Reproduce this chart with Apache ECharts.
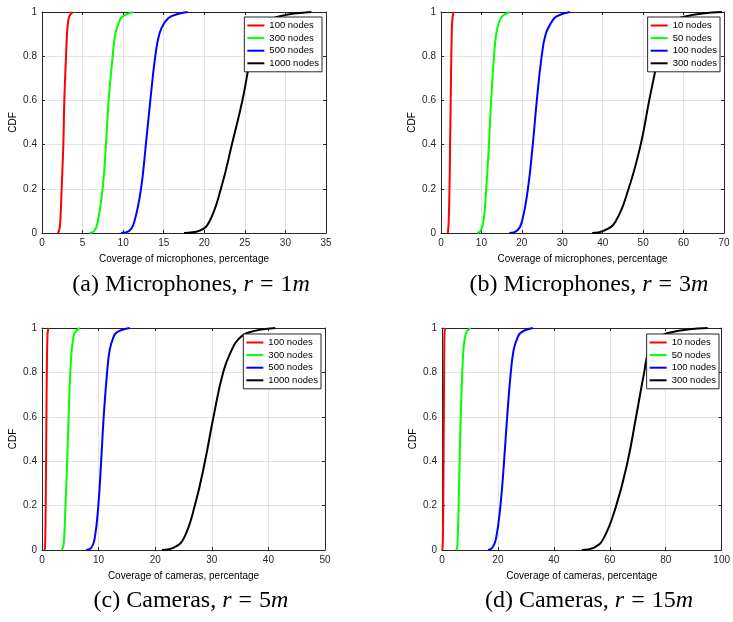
<!DOCTYPE html>
<html>
<head>
<meta charset="utf-8">
<script src="https://cdn.jsdelivr.net/npm/echarts@6/dist/echarts.min.js"></script>
<style>html,body{margin:0;padding:0;background:#fff}#c{width:733px;height:622px}</style>
</head>
<body>
<div id="c"></div>
<script>
// CDF levels (y values) shared by all curves
const cdfLevels = [0, 0.01, 0.05, 0.2, 0.4, 0.6, 0.8, 0.9, 0.95, 0.98, 1];

// Coverage (x values, %) at each CDF level
// (a) Microphones, r = 1m
const a_100  = [1.93, 2.1, 2.25, 2.42, 2.63, 2.75, 2.96, 3.08, 3.2, 3.37, 3.78];
const a_300  = [5.83, 6.45, 6.86, 7.47, 7.88, 8.21, 8.71, 9.03, 9.45, 9.94, 11.25];
const a_500  = [9.73, 10.76, 11.37, 12.2, 12.8, 13.35, 13.96, 14.46, 15.07, 15.9, 17.95];
const a_1000 = [17.5, 19.4, 20.6, 22.05, 23.4, 24.7, 25.75, 26.6, 27.6, 29.2, 33.2];
// (b) Microphones, r = 3m
const b_10  = [1.64, 1.75, 1.9, 2.1, 2.25, 2.4, 2.55, 2.65, 2.75, 2.9, 3.1];
const b_50  = [9.0, 9.8, 10.5, 11.2, 11.85, 12.4, 13.1, 13.65, 14.3, 15.1, 16.9];
const b_100 = [16.9, 18.8, 20.0, 21.5, 22.7, 23.7, 24.9, 25.9, 27.2, 28.6, 31.9];
const b_300 = [37.4, 40.2, 43.1, 46.4, 49.4, 51.5, 53.8, 55.2, 57.3, 60.4, 69.5];
// (c) Cameras, r = 5m
const c_100  = [0.45, 0.52, 0.58, 0.65, 0.72, 0.78, 0.85, 0.9, 0.95, 1.0, 1.15];
const c_300  = [3.35, 3.7, 3.9, 4.15, 4.45, 4.7, 5.0, 5.25, 5.5, 5.8, 6.7];
const c_500  = [7.8, 8.7, 9.3, 9.95, 10.45, 10.9, 11.5, 11.95, 12.5, 13.2, 15.5];
const c_1000 = [21.2, 23.2, 25.0, 27.0, 28.8, 30.3, 32.0, 33.5, 34.7, 36.5, 41.2];
// (d) Cameras, r = 15m
const d_10  = [0.1, 0.2, 0.3, 0.45, 0.55, 0.65, 0.75, 0.8, 0.85, 0.9, 1.2];
const d_50  = [5.0, 5.4, 5.6, 5.95, 6.3, 6.7, 7.25, 7.65, 8.1, 8.7, 10.2];
const d_100 = [16.5, 18.0, 19.3, 20.9, 22.2, 23.3, 24.6, 25.6, 26.8, 28.3, 32.5];
const d_300 = [50.0, 54.2, 57.7, 62.3, 66.4, 69.4, 72.3, 74.0, 77.0, 81.6, 95.0];

const legendA = ['100 nodes', '300 nodes', '500 nodes', '1000 nodes'];
const legendB = ['10 nodes', '50 nodes', '100 nodes', '300 nodes'];
const xTitleMic = 'Coverage of microphones, percentage';
const xTitleCam = 'Coverage of cameras, percentage';
const yTitle = 'CDF';
const captions = [
  ['(a) Microphones, ', 'r', '1', 'm'],
  ['(b) Microphones, ', 'r', '3', 'm'],
  ['(c) Cameras, ', 'r', '5', 'm'],
  ['(d) Cameras, ', 'r', '15', 'm']
];
const colors = ['#ff0000', '#00ff00', '#0000ff', '#000000'];

const panels = [
  {id:'a', curves:[a_100,a_300,a_500,a_1000], names:legendA, xmax:35, xint:5, xtitle:xTitleMic,
   grid:{left:42, top:12, width:284, height:221}, legendRight:411, legendTop:17, cap:{x:191, y:285}},
  {id:'b', curves:[b_10,b_50,b_100,b_300], names:legendB, xmax:70, xint:10, xtitle:xTitleMic,
   grid:{left:441, top:12, width:283, height:221}, legendRight:13, legendTop:17, cap:{x:589, y:285}},
  {id:'c', curves:[c_100,c_300,c_500,c_1000], names:legendA, xmax:50, xint:10, xtitle:xTitleCam,
   grid:{left:42, top:328, width:283, height:222}, legendRight:412, legendTop:334, cap:{x:191, y:601}},
  {id:'d', curves:[d_10,d_50,d_100,d_300], names:legendB, xmax:100, xint:20, xtitle:xTitleCam,
   grid:{left:442, top:328, width:282, height:222}, legendRight:14, legendTop:334, cap:{x:589, y:601}}
];

const axisColor = '#262626';
const grids = [], xAxes = [], yAxes = [], series = [], legends = [], graphics = [];

panels.forEach((p, k) => {
  grids.push(p.grid);
  const common = {type:'value', gridIndex:k,
    axisLine:{show:true, onZero:false, lineStyle:{color:axisColor, width:1}},
    axisTick:{show:true, inside:true, length:3, lineStyle:{color:axisColor}}};
  xAxes.push(Object.assign({}, common, {position:'bottom', min:0, max:p.xmax, interval:p.xint,
    axisLabel:{color:axisColor, fontSize:10, margin:5, fontFamily:'Liberation Sans'},
    splitLine:{show:true, lineStyle:{color:'#e3e3e3', width:1}},
    name:p.xtitle, nameLocation:'middle', nameGap:21,
    nameTextStyle:{color:'#000', fontSize:10, fontFamily:'Liberation Sans'}}));
  xAxes.push(Object.assign({}, common, {position:'top', min:0, max:p.xmax, interval:p.xint,
    axisLabel:{show:false}, splitLine:{show:false}}));
  yAxes.push(Object.assign({}, common, {position:'left', min:0, max:1, interval:0.2,
    axisLabel:{color:axisColor, fontSize:10, margin:5, fontFamily:'Liberation Sans'},
    splitLine:{show:true, lineStyle:{color:'#e3e3e3', width:1}},
    name:yTitle, nameLocation:'middle', nameGap:24,
    nameTextStyle:{color:'#000', fontSize:10, fontFamily:'Liberation Sans'}}));
  yAxes.push(Object.assign({}, common, {position:'right', min:0, max:1, interval:0.2,
    axisLabel:{show:false}, splitLine:{show:false}}));

  const seriesNames = [];
  p.curves.forEach((xs, i) => {
    const nm = p.id + ':' + p.names[i];
    seriesNames.push(nm);
    series.push({type:'line', name:nm, xAxisIndex:2*k, yAxisIndex:2*k,
      data: cdfLevels.map((lv, j) => [xs[j], lv]),
      smooth:0.45, symbol:'none', showSymbol:false, clip:true,
      lineStyle:{color:colors[i], width:2}, itemStyle:{color:colors[i]}, z:3});
  });
  legends.push({data:seriesNames, orient:'vertical', right:p.legendRight, top:p.legendTop,
    icon:'rect', itemWidth:17, itemHeight:2, itemGap:1.6, padding:[3,3,3,3],
    backgroundColor:'#fff', borderColor:axisColor, borderWidth:1,
    selectedMode:false,
    formatter: function (n) { return n.split(':')[1]; },
    textStyle:{fontSize:9.5, color:'#000', fontFamily:'Liberation Sans', lineHeight:11}});

  const c = captions[k];
  graphics.push({type:'text', x:p.cap.x, y:p.cap.y, z:10,
    style:{text:'{n|' + c[0] + '}{i|' + c[1] + '}{e|=}{n|' + c[2] + '}{i|' + c[3] + '}',
      align:'center', verticalAlign:'middle',
      rich:{n:{fontFamily:'Liberation Serif', fontSize:24, fill:'#000'},
            e:{fontFamily:'Liberation Serif', fontSize:24, fill:'#000', padding:[0,7,0,7]},
            i:{fontFamily:'Liberation Serif', fontStyle:'italic', fontSize:24, fill:'#000'}}}});
});

const chart = echarts.init(document.getElementById('c'), null, {renderer:'canvas'});
chart.setOption({
  animation:false,
  backgroundColor:'#fff',
  grid:grids, xAxis:xAxes, yAxis:yAxes, series:series, legend:legends, graphic:graphics
});
</script>
</body>
</html>
